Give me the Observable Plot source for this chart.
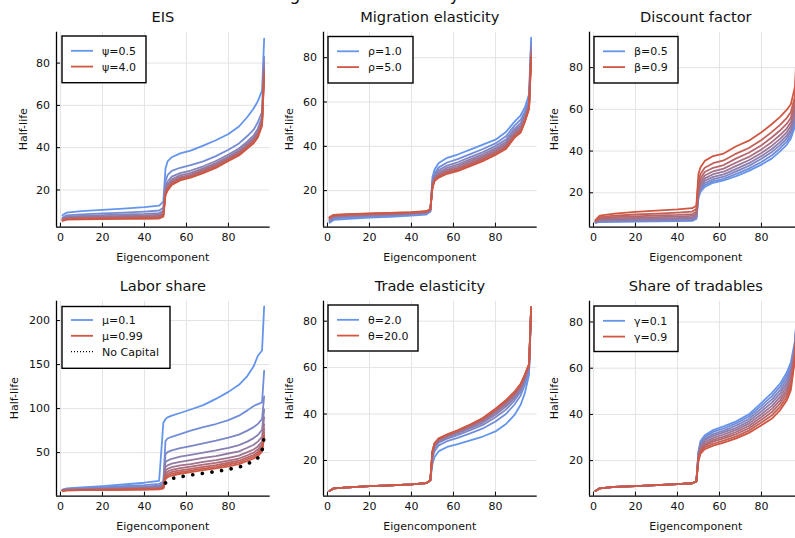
<!DOCTYPE html>
<html><head><meta charset="utf-8">
<script src="https://cdn.jsdelivr.net/npm/d3@7"></script>
<script src="https://cdn.jsdelivr.net/npm/@observablehq/plot@0.6"></script>
<style>
html,body{margin:0;padding:0;background:#fff;overflow:hidden;width:795px;height:538px;}
#root{position:relative;width:795px;height:538px;overflow:hidden;font-family:"DejaVu Sans",sans-serif;}
.panel{position:absolute;}
#overlay{position:absolute;left:0;top:0;}
</style></head><body><div id="root"></div>
<script>
// ---------- data ----------
const X_PLATEAU = [1, 3, 10, 20, 30, 40, 47, 49];
const X_JUMP = [50, 51, 53, 57, 62, 68, 74, 80, 85, 89, 92, 94, 96, 97];
const X_TICKS = [0, 20, 40, 60, 80];

const EIS_PARAMS = [0.5, 1.0, 1.5, 2.0, 2.5, 3.0, 3.5, 4.0];
const EIS_LINES = [
  [8.0, 9.3, 10.0, 10.6, 11.2, 11.9, 12.6, 14.5, 30.0, 33.5, 35.5, 37.3, 38.6, 41.0, 43.5, 46.5, 50.0, 54.5, 58.5, 62.0, 67.0, 91.5],
  [7.0, 8.0, 8.5, 8.9, 9.3, 9.8, 10.3, 11.6, 24.0, 27.0, 29.0, 30.5, 31.7, 33.5, 36.0, 39.0, 42.0, 45.5, 48.5, 52.0, 57.0, 83.0],
  [6.5, 7.4, 7.8, 8.1, 8.4, 8.7, 9.1, 10.2, 21.5, 24.0, 26.3, 28.0, 29.2, 31.2, 33.7, 36.8, 39.6, 43.0, 45.8, 49.0, 54.5, 80.5],
  [6.2, 7.0, 7.3, 7.5, 7.7, 8.0, 8.3, 9.3, 20.3, 22.6, 25.0, 26.9, 28.1, 30.2, 32.7, 35.8, 38.6, 42.0, 44.7, 47.7, 53.2, 78.8],
  [6.0, 6.7, 6.9, 7.1, 7.3, 7.5, 7.7, 8.7, 19.3, 21.6, 24.1, 26.1, 27.3, 29.5, 32.0, 35.1, 37.9, 41.2, 43.9, 46.8, 52.3, 77.5],
  [5.8, 6.5, 6.6, 6.8, 6.9, 7.1, 7.3, 8.2, 18.6, 20.8, 23.4, 25.5, 26.7, 28.9, 31.4, 34.6, 37.3, 40.6, 43.2, 46.0, 51.6, 76.3],
  [5.6, 6.2, 6.4, 6.5, 6.6, 6.8, 6.9, 7.8, 18.0, 20.2, 22.9, 25.0, 26.2, 28.4, 30.9, 34.1, 36.8, 40.1, 42.6, 45.4, 51.0, 75.2],
  [5.4, 6.0, 6.1, 6.2, 6.3, 6.4, 6.5, 7.4, 17.5, 19.7, 22.4, 24.5, 25.8, 28.0, 30.4, 33.7, 36.3, 39.6, 42.1, 44.8, 50.4, 74.2]
];

const MIG_PARAMS = [1.0, 1.5, 2.0, 2.5, 3.0, 3.5, 4.0, 4.5, 5.0];
const MIG_LINES = [
  [5.5, 6.8, 7.3, 7.8, 8.2, 8.7, 9.2, 10.5, 26.0, 29.5, 32.5, 34.8, 36.3, 38.5, 40.8, 43.0, 46.5, 51.0, 54.0, 57.5, 63.5, 89.0],
  [6.0, 7.4, 7.9, 8.3, 8.7, 9.1, 9.6, 10.8, 24.5, 27.8, 30.5, 32.7, 34.2, 36.5, 38.8, 41.3, 44.5, 49.2, 52.0, 55.6, 61.5, 87.0],
  [6.4, 7.8, 8.3, 8.7, 9.0, 9.4, 9.9, 11.0, 23.6, 26.8, 29.3, 31.3, 32.8, 35.1, 37.4, 40.1, 43.1, 47.9, 50.5, 54.3, 60.0, 85.5],
  [6.8, 8.1, 8.6, 8.9, 9.2, 9.6, 10.1, 11.2, 23.0, 26.1, 28.4, 30.3, 31.8, 34.1, 36.4, 39.1, 42.0, 46.9, 49.4, 53.3, 59.0, 84.2],
  [7.1, 8.4, 8.8, 9.1, 9.4, 9.8, 10.3, 11.3, 22.5, 25.6, 27.7, 29.5, 31.0, 33.3, 35.6, 38.3, 41.1, 46.0, 48.5, 52.5, 58.3, 83.0],
  [7.4, 8.6, 9.0, 9.3, 9.6, 10.0, 10.4, 11.4, 22.1, 25.2, 27.1, 28.9, 30.3, 32.6, 34.9, 37.6, 40.3, 45.3, 47.7, 51.9, 57.8, 82.0],
  [7.7, 8.8, 9.2, 9.5, 9.8, 10.1, 10.5, 11.5, 21.8, 24.9, 26.6, 28.4, 29.7, 32.0, 34.3, 37.0, 39.7, 44.7, 47.1, 51.5, 57.5, 81.2],
  [7.9, 9.0, 9.3, 9.6, 9.9, 10.2, 10.6, 11.6, 21.5, 24.6, 26.2, 28.0, 29.2, 31.5, 33.8, 36.5, 39.2, 44.2, 46.6, 51.2, 57.2, 80.6],
  [8.1, 9.1, 9.4, 9.7, 10.0, 10.3, 10.7, 11.7, 21.2, 24.3, 25.9, 27.6, 28.8, 31.1, 33.3, 36.1, 38.8, 43.8, 46.2, 51.0, 57.0, 80.0]
];

const DISC_PARAMS = [0.5, 0.55, 0.6, 0.65, 0.7, 0.75, 0.8, 0.85, 0.9];
const DISC_LINES = [
  [5.6, 6.0, 6.1, 6.2, 6.3, 6.4, 6.5, 7.5, 17.5, 20.5, 22.8, 24.8, 25.9, 28.0, 30.5, 33.5, 36.5, 40.0, 43.0, 46.0, 52.0, 78.0],
  [5.7, 6.2, 6.3, 6.4, 6.5, 6.7, 6.8, 7.8, 18.3, 21.1, 23.6, 25.6, 26.7, 29.1, 31.6, 34.8, 38.0, 41.5, 44.5, 47.5, 53.6, 79.2],
  [5.8, 6.4, 6.6, 6.7, 6.8, 7.0, 7.1, 8.1, 19.2, 21.9, 24.6, 26.5, 27.7, 30.3, 32.9, 36.3, 39.6, 43.0, 46.0, 49.0, 55.3, 80.6],
  [6.0, 6.7, 6.9, 7.1, 7.2, 7.4, 7.6, 8.6, 20.1, 22.9, 25.7, 27.6, 28.8, 31.5, 34.2, 37.6, 41.0, 44.4, 47.4, 50.4, 57.0, 82.2],
  [6.1, 7.0, 7.3, 7.5, 7.7, 7.9, 8.2, 9.2, 21.2, 24.0, 26.9, 28.9, 30.1, 32.9, 35.6, 39.1, 42.6, 46.0, 49.0, 52.0, 58.8, 84.0],
  [6.3, 7.4, 7.7, 8.0, 8.3, 8.6, 8.9, 10.0, 22.5, 25.3, 28.3, 30.3, 31.6, 34.5, 37.2, 40.8, 44.4, 47.8, 50.8, 53.8, 61.0, 86.0],
  [6.5, 7.8, 8.3, 8.7, 9.1, 9.4, 9.8, 10.9, 24.0, 27.0, 30.0, 32.0, 33.3, 36.5, 39.2, 42.8, 46.6, 50.0, 53.0, 56.0, 63.5, 88.0],
  [6.7, 8.3, 9.0, 9.6, 10.0, 10.5, 11.0, 12.2, 26.0, 29.0, 32.0, 34.2, 35.5, 38.8, 41.5, 45.3, 49.2, 52.7, 55.8, 58.6, 66.5, 90.5],
  [7.0, 9.0, 10.0, 10.8, 11.4, 12.0, 12.6, 13.8, 29.0, 32.3, 35.3, 37.6, 38.8, 42.3, 45.0, 49.0, 53.0, 56.5, 59.7, 62.5, 71.0, 94.0]
];

const LABOR_PARAMS = [0.1, 0.2, 0.3, 0.4, 0.5, 0.6, 0.7, 0.8, 0.9, 0.99];
const LABOR_LINES = [
  [8.0, 9.5, 10.5, 12.0, 13.8, 15.8, 18.0, 84.0, 88.0, 90.0, 92.0, 95.0, 99.0, 104.0, 111.0, 119.0, 127.0, 137.0, 148.0, 160.0, 166.0, 216.0],
  [7.8, 8.8, 9.5, 10.6, 11.8, 13.0, 14.5, 17.0, 63.0, 66.0, 68.0, 71.0, 75.0, 79.0, 82.5, 87.0, 92.0, 98.0, 103.0, 105.0, 107.0, 143.0],
  [7.5, 8.3, 8.9, 9.7, 10.5, 11.4, 12.5, 14.5, 48.0, 50.5, 52.5, 55.0, 57.5, 60.5, 63.5, 67.0, 70.5, 75.0, 79.0, 82.5, 88.0, 114.0],
  [7.3, 8.0, 8.5, 9.1, 9.7, 10.4, 11.3, 13.0, 39.0, 41.0, 43.0, 45.5, 47.5, 50.0, 52.5, 55.5, 58.5, 62.5, 66.5, 70.0, 76.0, 99.0],
  [7.1, 7.7, 8.2, 8.7, 9.2, 9.8, 10.5, 12.0, 33.5, 35.5, 37.5, 39.5, 41.5, 44.0, 46.0, 49.0, 51.5, 55.5, 59.0, 62.5, 68.0, 90.0],
  [7.0, 7.5, 7.9, 8.3, 8.8, 9.3, 9.9, 11.2, 29.5, 31.5, 33.5, 35.5, 37.0, 39.5, 41.5, 44.0, 46.5, 50.5, 53.5, 57.0, 62.5, 82.0],
  [6.9, 7.4, 7.7, 8.1, 8.5, 8.9, 9.4, 10.5, 26.5, 28.5, 30.5, 32.3, 34.0, 36.3, 38.3, 41.0, 43.3, 47.0, 50.0, 53.5, 59.0, 77.0],
  [6.8, 7.3, 7.6, 7.9, 8.2, 8.6, 9.0, 10.0, 24.0, 26.0, 28.0, 29.8, 31.5, 33.8, 35.8, 38.5, 40.8, 44.5, 47.3, 50.8, 56.0, 73.0],
  [6.7, 7.2, 7.5, 7.7, 8.0, 8.3, 8.7, 9.6, 22.0, 24.0, 26.0, 27.8, 29.5, 31.8, 33.8, 36.5, 38.8, 42.5, 45.3, 48.5, 53.5, 70.0],
  [6.6, 7.1, 7.3, 7.5, 7.8, 8.1, 8.4, 9.3, 20.0, 22.0, 24.0, 26.0, 27.8, 30.0, 32.0, 34.5, 37.0, 40.5, 43.3, 46.0, 51.0, 67.0]
];
const NOCAP_X = [50, 51, 53, 57, 62, 68, 74, 80, 85, 89, 92, 94, 96, 97];
const NOCAP_Y = [15.5, 18.0, 20.5, 22.5, 24.5, 26.5, 28.5, 31.0, 33.5, 37.0, 41.0, 44.0, 52.0, 68.0];

const TRADE_PARAMS = [2.0, 4.0, 6.0, 8.0, 10.0, 12.0, 14.0, 16.0, 18.0, 20.0];
const TRADE_PLATEAU = [6.8, 8.0, 8.4, 8.9, 9.3, 9.7, 10.2, 11.5];
const TRADE_POST = [
  [18.5, 21.5, 24.0, 25.8, 27.0, 28.6, 30.3, 32.5, 35.7, 39.5, 44.0, 49.0, 57.0, 85.5],
  [21.0, 24.0, 26.5, 28.3, 29.7, 31.7, 33.8, 36.8, 40.0, 44.0, 48.0, 52.5, 58.5, 85.5],
  [22.2, 25.3, 27.6, 29.4, 30.9, 33.0, 35.3, 38.6, 41.9, 45.8, 49.6, 54.0, 59.5, 85.7],
  [22.8, 26.0, 28.2, 30.0, 31.6, 33.8, 36.2, 39.7, 43.2, 46.9, 50.6, 54.9, 60.2, 85.8],
  [23.2, 26.5, 28.6, 30.4, 32.1, 34.4, 36.9, 40.5, 44.0, 47.7, 51.3, 55.5, 60.6, 85.8],
  [23.5, 26.8, 28.9, 30.7, 32.4, 34.8, 37.4, 41.1, 44.7, 48.3, 51.9, 56.0, 60.9, 85.9],
  [23.7, 27.0, 29.1, 30.9, 32.7, 35.1, 37.8, 41.6, 45.2, 48.8, 52.3, 56.4, 61.1, 85.9],
  [23.8, 27.2, 29.3, 31.0, 32.8, 35.3, 38.0, 41.9, 45.6, 49.1, 52.6, 56.7, 61.3, 86.0],
  [23.9, 27.4, 29.4, 31.1, 32.9, 35.4, 38.2, 42.1, 45.8, 49.3, 52.8, 56.9, 61.4, 86.0],
  [24.0, 27.5, 29.5, 31.2, 33.0, 35.5, 38.3, 42.3, 46.0, 49.5, 53.0, 57.0, 61.5, 86.0]
];

const TRAD_PARAMS = [0.1, 0.2, 0.3, 0.4, 0.5, 0.6, 0.7, 0.8, 0.9];
const TRAD_PLATEAU = [6.8, 8.0, 8.6, 9.0, 9.4, 9.8, 10.2, 11.0];
const TRAD_POST = [
  [24.0, 28.5, 31.0, 33.2, 34.8, 37.0, 40.0, 45.0, 49.3, 53.5, 58.0, 62.5, 72.0, 86.0],
  [23.5, 27.8, 30.2, 32.4, 33.9, 36.1, 39.1, 43.8, 47.9, 52.1, 56.5, 61.0, 71.1, 85.5],
  [23.0, 27.1, 29.5, 31.5, 33.0, 35.2, 38.0, 42.6, 46.5, 50.6, 55.0, 59.5, 70.1, 85.0],
  [22.5, 26.4, 28.8, 30.7, 32.2, 34.2, 37.0, 41.4, 45.1, 49.2, 53.5, 58.0, 69.2, 84.5],
  [22.0, 25.7, 28.0, 29.8, 31.3, 33.3, 36.0, 40.1, 43.7, 47.7, 52.0, 56.5, 68.2, 84.0],
  [21.5, 25.1, 27.2, 29.0, 30.4, 32.4, 35.0, 38.9, 42.4, 46.3, 50.5, 55.0, 67.3, 83.5],
  [21.0, 24.4, 26.5, 28.2, 29.6, 31.5, 34.0, 37.7, 41.0, 44.9, 49.0, 53.5, 66.4, 83.0],
  [20.5, 23.7, 25.8, 27.3, 28.7, 30.5, 33.0, 36.5, 39.6, 43.4, 47.5, 52.0, 65.4, 82.5],
  [20.0, 23.0, 25.0, 26.5, 27.8, 29.6, 32.0, 35.3, 38.2, 42.0, 46.0, 50.5, 64.5, 82.0]
];

// ---------- layout & style ----------
const BLUE = "#6495ed", RED = "rgb(208,88,66)";
const X_DOMAIN = [-1.88, 99.88];
const COL_L = [0, 267, 533], ROW_T = [0, 269];
const W = 272, H = 270, ML = 56, MR = 2.3, MT = 31.7, MB = 43.3;
const PW = W - ML - MR, PH = H - MT - MB;
const XS = X_PLATEAU.concat(X_JUMP);
const fmt = v => Number.isInteger(v) ? v.toFixed(1) : String(v);

const panels = [
  {col:0,row:0,title:"EIS",sym:"ψ",params:EIS_PARAMS,lines:EIS_LINES,ydom:[2.4,94.6],yticks:[20,40,60,80],leg:[62,36,84,46.7],ylx:26.7},
  {col:1,row:0,title:"Migration elasticity",sym:"ρ",params:MIG_PARAMS,lines:MIG_LINES,ydom:[3.5,91.5],yticks:[20,40,60,80],leg:[328,36.5,85,46.5],ylx:292.8},
  {col:2,row:0,title:"Discount factor",sym:"β",params:DISC_PARAMS,lines:DISC_LINES,ydom:[3.5,97],yticks:[20,40,60,80],leg:[594,36.5,84,46.5],ylx:558.3},
  {col:0,row:1,title:"Labor share",sym:"μ",params:LABOR_PARAMS,lines:LABOR_LINES,ydom:[0.5,222],yticks:[50,100,150,200],leg:[62,306.5,108,61.8],ylx:18.3,nocap:true},
  {col:1,row:1,title:"Trade elasticity",sym:"θ",params:TRADE_PARAMS,lines:TRADE_POST.map(p=>TRADE_PLATEAU.concat(p)),ydom:[4.6,88.6],yticks:[20,40,60,80],leg:[328,305,90,46],ylx:292.8},
  {col:2,row:1,title:"Share of tradables",sym:"γ",params:TRAD_PARAMS,lines:TRAD_POST.map(p=>TRAD_PLATEAU.concat(p)),ydom:[4.6,89],yticks:[20,40,60,80],leg:[594,306,84,45.5],ylx:558.3}
];

const root = document.getElementById("root");
const colorOf = (i, n) => d3.interpolateRgb(BLUE, RED)(n === 1 ? 0 : i / (n - 1));

for (const p of panels) {
  const n = p.lines.length;
  const marks = [
    Plot.gridX(X_TICKS, {stroke: "#e3e3e3", strokeOpacity: 1, strokeWidth: 1}),
    Plot.gridY(p.yticks, {stroke: "#e3e3e3", strokeOpacity: 1, strokeWidth: 1}),
    ...p.lines.map((ys, i) => Plot.line(ys.map((y, j) => ({x: XS[j], y})), {
      x: "x", y: "y", stroke: colorOf(i, n), strokeWidth: 1.8, strokeLinejoin: "round"
    }))
  ];
  if (p.nocap) {
    marks.push(Plot.line(NOCAP_X.map((x, j) => ({x, y: NOCAP_Y[j]})), {
      x: "x", y: "y", stroke: "#000", strokeWidth: 3.6, strokeLinecap: "round", strokeDasharray: "0.1 9.6"
    }));
  }
  marks.push(
    Plot.ruleX([X_DOMAIN[0]], {stroke: "#000", strokeWidth: 1.3}),
    Plot.ruleY([p.ydom[0]], {stroke: "#000", strokeWidth: 1.3}),
    Plot.tickX(X_TICKS, {x: d => d, insetTop: PH - 4, stroke: "#000", strokeWidth: 1}),
    Plot.tickY(p.yticks, {y: d => d, insetRight: PW - 4, stroke: "#000", strokeWidth: 1}),
    Plot.axisX(X_TICKS, {tickSize: 0, tickPadding: 6, label: null, fontSize: 11, fill: "#111"}),
    Plot.axisY(p.yticks, {tickSize: 0, tickPadding: 6.5, label: null, fontSize: 11, fill: "#111"})
  );
  const chart = Plot.plot({
    width: W, height: H,
    marginLeft: ML, marginRight: MR, marginTop: MT, marginBottom: MB,
    x: {domain: X_DOMAIN},
    y: {domain: p.ydom},
    style: {background: "transparent", fontFamily: "DejaVu Sans", fontSize: "11px", color: "#111", overflow: "visible"},
    marks
  });
  chart.classList.add("panel");
  chart.style.left = COL_L[p.col] + "px";
  chart.style.top = ROW_T[p.row] + "px";
  chart.style.position = "absolute";
  root.appendChild(chart);
}

// ---------- overlay: titles, axis labels, legends ----------
const ns = "http://www.w3.org/2000/svg";
const ov = document.createElementNS(ns, "svg");
ov.setAttribute("id", "overlay");
ov.setAttribute("width", 795); ov.setAttribute("height", 538);
ov.style.overflow = "visible";
root.appendChild(ov);
function el(tag, attrs, text) {
  const e = document.createElementNS(ns, tag);
  for (const k in attrs) e.setAttribute(k, attrs[k]);
  if (text != null) e.textContent = text;
  ov.appendChild(e);
  return e;
}
const FONT = "DejaVu Sans";
el("text", {x: 274, y: -0.5, "font-family": FONT, "font-size": 17, fill: "#111"}, "Eigenvalue sensitivity");

for (const p of panels) {
  const L = COL_L[p.col], T = ROW_T[p.row];
  const cx = L + ML + PW / 2, cy = T + MT + PH / 2;
  el("text", {x: cx, y: T + 21.5, "text-anchor": "middle", "font-family": FONT, "font-size": 14.6, fill: "#111"}, p.title);
  el("text", {x: cx, y: T + 260.7, "text-anchor": "middle", "font-family": FONT, "font-size": 11, fill: "#111"}, "Eigencomponent");
  el("text", {transform: `translate(${p.ylx},${cy}) rotate(-90)`, "text-anchor": "middle", "font-family": FONT, "font-size": 11, fill: "#111"}, "Half-life");
  const [bx, by, bw, bh] = p.leg;
  el("rect", {x: bx, y: by, width: bw, height: bh, fill: "#fff", stroke: "#000", "stroke-width": 1.4});
  const n = p.lines.length;
  const entries = [
    {label: `${p.sym}=${fmt(p.params[0])}`, color: colorOf(0, n)},
    {label: `${p.sym}=${fmt(p.params[n - 1])}`, color: colorOf(n - 1, n)}
  ];
  if (p.nocap) entries.push({label: "No Capital", color: "#000", dot: true});
  const first = p.nocap ? 13.5 : 14.8;
  entries.forEach((e, k) => {
    const ry = by + first + k * 15.8;
    const a = {x1: bx + 9, x2: bx + 31, y1: ry, y2: ry, stroke: e.color, "stroke-width": e.dot ? 1.2 : 1.8};
    if (e.dot) { a["stroke-dasharray"] = "1 2"; }
    el("line", a);
    el("text", {x: bx + 40, y: ry + 4, "font-family": FONT, "font-size": 11, fill: "#111"}, e.label);
  });
}
</script>
</body></html>
